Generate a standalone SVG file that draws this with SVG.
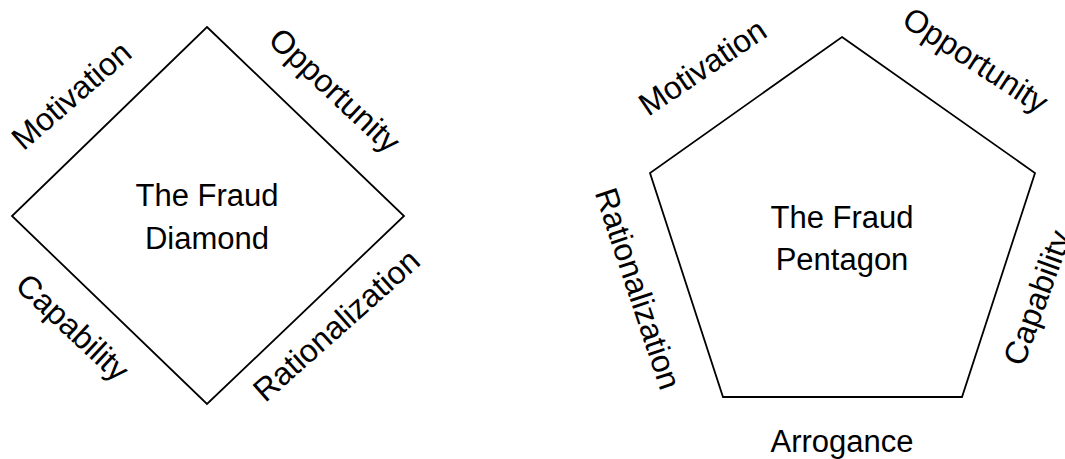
<svg xmlns="http://www.w3.org/2000/svg" width="1065" height="459" viewBox="0 0 1065 459">
<style>
.shape{fill:none;stroke:#000;stroke-width:1.8;stroke-linejoin:miter}
.lbl{font-family:"Liberation Sans",Arial,sans-serif;font-size:32px;fill:#000;text-anchor:middle}
.ctr{font-family:"Liberation Sans",Arial,sans-serif;font-size:31px;fill:#000;text-anchor:middle}
</style>
<rect width="1065" height="459" fill="#fff"/>
<g id="diamond">
<polygon class="shape" points="207,27 404,216 207,404 12,216"/>
<text class="ctr" x="207" y="206">The Fraud</text>
<text class="ctr" x="207" y="249">Diamond</text>
</g>
<g id="diamond-labels">
<text class="lbl" transform="translate(72,96) rotate(-41)" y="10">Motivation</text>
<text class="lbl" transform="translate(334,91) rotate(43)" y="10">Opportunity</text>
<text class="lbl" transform="translate(72,328) rotate(43)" y="10">Capability</text>
<text class="lbl" transform="translate(337,326) rotate(-41.6)" y="10">Rationalization</text>
</g>
<g id="pentagon">
<polygon class="shape" points="842,37 1035,173 962,397 723,397 650,173"/>
<text class="ctr" x="842" y="228">The Fraud</text>
<text class="ctr" x="842" y="270">Pentagon</text>
</g>
<g id="pentagon-labels">
<text class="lbl" transform="translate(703,68) rotate(-34)" y="10">Motivation</text>
<text class="lbl" transform="translate(975,61) rotate(33)" y="10">Opportunity</text>
<text class="lbl" transform="translate(637,289) rotate(71.6)" y="10">Rationalization</text>
<text class="lbl" transform="translate(1038,298) rotate(-70)" y="10">Capability</text>
<text class="ctr" x="842" y="452">Arrogance</text>
</g>
</svg>
